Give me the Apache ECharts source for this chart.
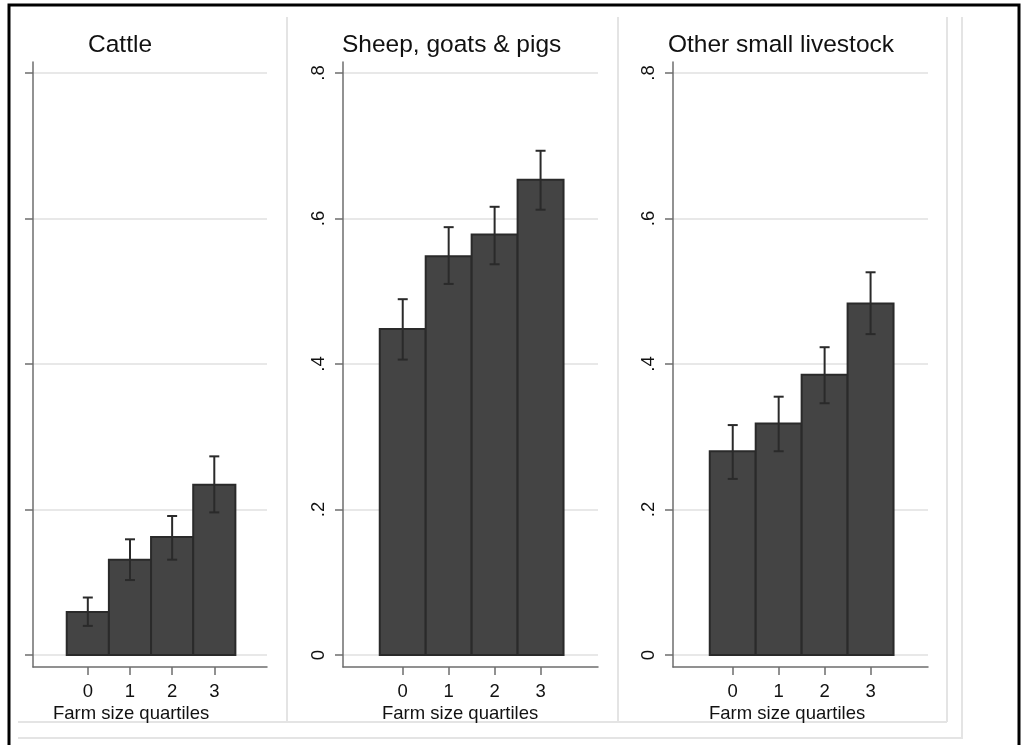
<!DOCTYPE html>
<html>
<head>
<meta charset="utf-8">
<script src="https://cdn.jsdelivr.net/npm/echarts@6/dist/echarts.min.js"></script>
<style>
  html, body { margin: 0; padding: 0; background: #ffffff; }
  #chart { width: 1026px; height: 745px; }
</style>
</head>
<body>
<div id="chart"></div>
<script>
// Share of households owning each livestock type, by farm size quartile,
// with 95% confidence intervals.
const quartiles = [0, 1, 2, 3];

const cattleMean = [0.059, 0.131, 0.162, 0.234];
const cattleLo   = [0.040, 0.103, 0.131, 0.196];
const cattleHi   = [0.079, 0.159, 0.191, 0.273];

const sheepMean = [0.448, 0.548, 0.578, 0.653];
const sheepLo   = [0.406, 0.510, 0.537, 0.612];
const sheepHi   = [0.489, 0.588, 0.616, 0.693];

const otherMean = [0.280, 0.318, 0.385, 0.483];
const otherLo   = [0.242, 0.280, 0.346, 0.441];
const otherHi   = [0.316, 0.355, 0.423, 0.526];

const panelTitles = ['Cattle', 'Sheep, goats & pigs', 'Other small livestock'];
const xAxisTitle = 'Farm size quartiles';
const xTickValues = [0, 1, 2, 3];
const yTickValues = [0, 0.2, 0.4, 0.6, 0.8];
const yTickLabels = ['0', '.2', '.4', '.6', '.8'];

const panelData = [
  { mean: cattleMean, lo: cattleLo, hi: cattleHi },
  { mean: sheepMean, lo: sheepLo, hi: sheepHi },
  { mean: otherMean, lo: otherLo, hi: otherHi }
];

// Pixel layout of the three panels
const layout = [
  { left: 33,  right: 267, titleLeft: 88,  xTitleLeft: 53,  yLabels: false },
  { left: 343, right: 598, titleLeft: 342, xTitleLeft: 382, yLabels: true },
  { left: 673, right: 928, titleLeft: 668, xTitleLeft: 709, yLabels: true }
];

const FONT = 'Liberation Sans, Arial, sans-serif';
const TEXT = '#111111';
const AXIS = '#6e6e6e';
const GRID = '#e8e8e8';
const BAR_FILL = '#444444';
const BAR_EDGE = '#2a2a2a';

function renderBarWithCI(params, api) {
  const x = api.value(0);
  const m = api.value(1);
  const lo = api.value(2);
  const hi = api.value(3);
  const base = api.coord([x - 0.5, 0]);
  const tip = api.coord([x + 0.5, m]);
  const top = api.coord([x, hi]);
  const bot = api.coord([x, lo]);
  const cap = 5;
  const lineStyle = { stroke: BAR_EDGE, lineWidth: 2 };
  return {
    type: 'group',
    children: [
      { type: 'rect',
        shape: { x: base[0], y: tip[1], width: tip[0] - base[0], height: base[1] - tip[1] },
        style: { fill: BAR_FILL, stroke: BAR_EDGE, lineWidth: 2 } },
      { type: 'line', shape: { x1: top[0], y1: top[1], x2: bot[0], y2: bot[1] }, style: lineStyle },
      { type: 'line', shape: { x1: top[0] - cap, y1: top[1], x2: top[0] + cap, y2: top[1] }, style: lineStyle },
      { type: 'line', shape: { x1: bot[0] - cap, y1: bot[1], x2: bot[0] + cap, y2: bot[1] }, style: lineStyle }
    ]
  };
}

function yLabel(v) {
  const k = yTickValues.findIndex(t => Math.abs(t - v) < 1e-9);
  return k >= 0 ? yTickLabels[k] : '';
}

const grids = [], xAxes = [], yAxes = [], series = [], titles = [];

layout.forEach((p, i) => {
  grids.push({ left: p.left, top: 62, width: p.right - p.left, height: 605 });

  xAxes.push({
    type: 'value', gridIndex: i, min: -1.3, max: 4.25,
    axisLine: { show: true, onZero: false, lineStyle: { color: AXIS, width: 1.5 } },
    axisTick: { show: true, customValues: xTickValues, length: 8, lineStyle: { color: AXIS, width: 1.5 } },
    axisLabel: { customValues: xTickValues, margin: 15, fontSize: 18.5, color: TEXT, fontFamily: FONT },
    splitLine: { show: false }
  });

  yAxes.push({
    type: 'value', gridIndex: i, min: -0.0165, max: 0.815,
    axisLine: { show: true, onZero: false, lineStyle: { color: AXIS, width: 1.5 } },
    axisTick: { show: true, customValues: yTickValues, length: 8, lineStyle: { color: AXIS, width: 1.5 } },
    axisLabel: {
      show: p.yLabels, customValues: yTickValues, rotate: 90, margin: 15,
      fontSize: 18.5, color: TEXT, fontFamily: FONT, formatter: yLabel
    },
    splitLine: { show: true, lineStyle: { color: GRID, width: 2 } }
  });

  const d = panelData[i];
  series.push({
    type: 'custom', xAxisIndex: i, yAxisIndex: i,
    renderItem: renderBarWithCI,
    encode: { x: 0, y: [1, 2, 3] },
    clip: false,
    data: quartiles.map((q, k) => [q, d.mean[k], d.lo[k], d.hi[k]])
  });

  titles.push({
    text: panelTitles[i], left: p.titleLeft, top: 33, padding: 0,
    textStyle: { fontSize: 24.5, fontWeight: 'normal', color: TEXT, fontFamily: FONT }
  });
  titles.push({
    text: xAxisTitle, left: p.xTitleLeft, top: 704, padding: 0,
    textStyle: { fontSize: 18.5, fontWeight: 'normal', color: TEXT, fontFamily: FONT }
  });
});

// Panel outlines and outer frame
const frameStyle = { stroke: '#e4e4e4', lineWidth: 2 };
function frameLine(x1, y1, x2, y2) {
  return { type: 'line', silent: true, shape: { x1, y1, x2, y2 }, style: frameStyle, z: -1 };
}
const graphic = [
  frameLine(287, 17, 287, 722),
  frameLine(618, 17, 618, 722),
  frameLine(947, 17, 947, 722),
  frameLine(962, 17, 962, 738),
  frameLine(18, 722, 947, 722),
  frameLine(18, 738, 963, 738),
  { type: 'rect', silent: true, shape: { x: 9, y: 5, width: 1010, height: 800 },
    style: { fill: null, stroke: '#000000', lineWidth: 3 }, z: 100 }
];

const chart = echarts.init(document.getElementById('chart'), null, { renderer: 'canvas' });
chart.setOption({
  animation: false,
  backgroundColor: '#ffffff',
  title: titles,
  grid: grids,
  xAxis: xAxes,
  yAxis: yAxes,
  series: series,
  graphic: graphic
});
</script>
</body>
</html>
